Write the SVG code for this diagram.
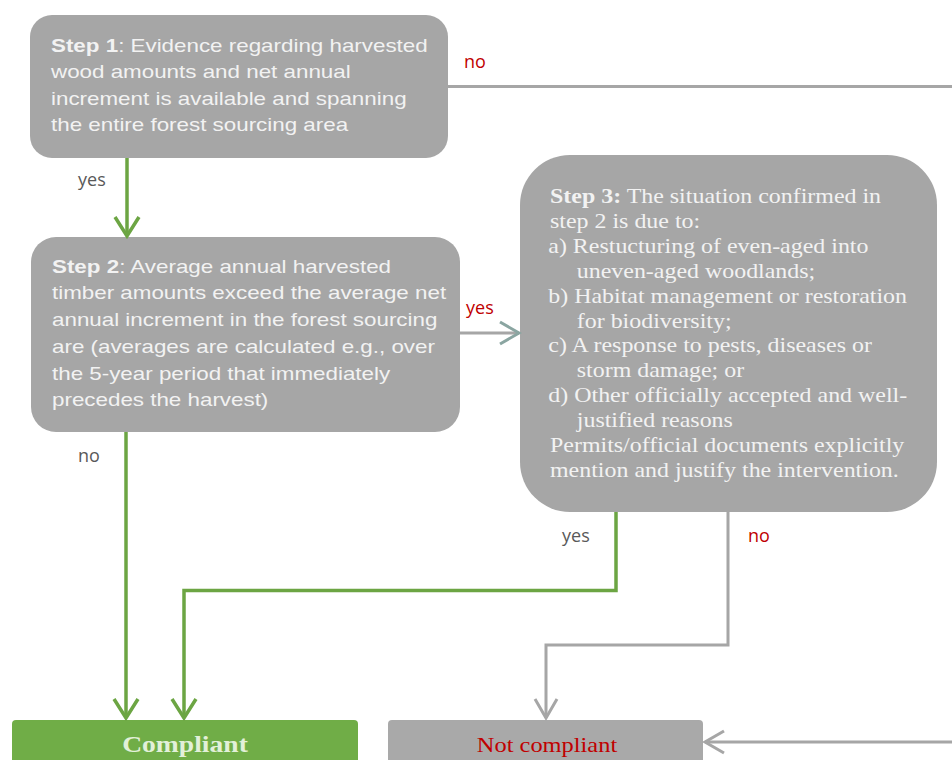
<svg xmlns="http://www.w3.org/2000/svg" width="952" height="760" viewBox="0 0 952 760">
<defs>
<style>
.box{fill:#a6a6a6}
.sans{font-family:"Liberation Sans",Arial,sans-serif;font-size:18.5px;fill:#f2f2f2}
.serif{font-family:"Liberation Serif","Times New Roman",serif;font-size:21px;fill:#f2f2f2}
.b{font-weight:bold}
.lbl{font-family:"Open Sans","Liberation Sans",sans-serif;font-size:18px}
.red{fill:#c00000}
.dk{fill:#595959}
.cg{fill:none;stroke:#6ca543;stroke-width:3.5}
.cr{fill:none;stroke:#a6a6a6;stroke-width:3}
</style>
<marker id="ag" viewBox="0 0 24 28" refX="21" refY="14" markerWidth="24" markerHeight="28" markerUnits="userSpaceOnUse" orient="auto"><path d="M2,2 L21,14 L2,26" fill="none" stroke="#6ca543" stroke-width="3.5"/></marker>
<marker id="ar" viewBox="0 0 24 28" refX="21" refY="14" markerWidth="24" markerHeight="28" markerUnits="userSpaceOnUse" orient="auto"><path d="M2,3 L21,14 L2,25" fill="none" stroke="#a6a6a6" stroke-width="3"/></marker>
<marker id="at" viewBox="0 0 24 28" refX="21" refY="14" markerWidth="24" markerHeight="28" markerUnits="userSpaceOnUse" orient="auto"><path d="M2,3 L21,14 L2,25" fill="none" stroke="#8aa5a1" stroke-width="3"/></marker>
</defs>
<rect width="952" height="760" fill="#ffffff"/>

<g id="step1">
<rect class="box" x="30" y="15" width="418" height="143" rx="22"/>
<g transform="translate(51 0) scale(1.21 1)">
<text class="sans" x="0" y="52"><tspan class="b">Step 1</tspan>: Evidence regarding harvested</text>
<text class="sans" x="0" y="78.5">wood amounts and net annual</text>
<text class="sans" x="0" y="105">increment is available and spanning</text>
<text class="sans" x="0" y="131.5">the entire forest sourcing area</text>
</g>
</g>

<g id="step2">
<rect class="box" x="31" y="237" width="429" height="195" rx="25"/>
<g transform="translate(52 0) scale(1.21 1)">
<text class="sans" x="0" y="273"><tspan class="b">Step 2</tspan>: Average annual harvested</text>
<text class="sans" x="0" y="299.5">timber amounts exceed the average net</text>
<text class="sans" x="0" y="326">annual increment in the forest sourcing</text>
<text class="sans" x="0" y="353">are (averages are calculated e.g., over</text>
<text class="sans" x="0" y="380">the 5-year period that immediately</text>
<text class="sans" x="0" y="406.5">precedes the harvest)</text>
</g>
</g>

<g id="step3">
<rect class="box" x="520" y="155" width="417" height="357" rx="50"/>
<g transform="translate(550 0) scale(1.14 1)">
<text class="serif" x="0" y="203"><tspan class="b">Step 3:</tspan> The situation confirmed in</text>
<text class="serif" x="0" y="228">step 2 is due to:</text>
<text class="serif" x="-1.5" y="253">a) Restucturing of even-aged into</text>
<text class="serif" x="23.5" y="278">uneven-aged woodlands;</text>
<text class="serif" x="-1.5" y="303">b) Habitat management or restoration</text>
<text class="serif" x="23.5" y="328">for biodiversity;</text>
<text class="serif" x="-1.5" y="352">c) A response to pests, diseases or</text>
<text class="serif" x="23.5" y="377">storm damage; or</text>
<text class="serif" x="-1.5" y="402">d) Other officially accepted and well-</text>
<text class="serif" x="23.5" y="427">justified reasons</text>
<text class="serif" x="0" y="452">Permits/official documents explicitly</text>
<text class="serif" x="0" y="477">mention and justify the intervention.</text>
</g>
</g>

<g id="compliant">
<rect x="12" y="720" width="346" height="52" rx="4" fill="#70ad47"/>
<g transform="translate(185 0) scale(1.15 1)">
<text x="0" y="752" text-anchor="middle" font-family="'Liberation Serif','Times New Roman',serif" font-size="24" font-weight="bold" fill="#e2f0d9">Compliant</text>
</g>
</g>

<g id="notcompliant">
<rect x="388" y="720" width="315" height="52" rx="4" fill="#a9a9a9"/>
<g transform="translate(547 0) scale(1.11 1)">
<text x="0" y="752" text-anchor="middle" font-family="'Liberation Serif','Times New Roman',serif" font-size="22" fill="#c00000">Not compliant</text>
</g>
</g>

<g id="connectors">
<path class="cr" d="M448,86.5 H952"/>
<path class="cg" d="M127,158 V236" marker-end="url(#ag)"/>
<path class="cr" d="M460,333 H519" marker-end="url(#at)"/>
<path class="cg" d="M126,432 V718" marker-end="url(#ag)"/>
<path class="cg" d="M616,512 V590.5 H184 V718" marker-end="url(#ag)"/>
<path class="cr" d="M728,512 V645 H546 V718" marker-end="url(#ar)"/>
<path class="cr" d="M952,742 H705" marker-end="url(#ar)"/>
<text class="lbl red" x="464" y="68">no</text>
<text class="lbl dk" x="78" y="186">yes</text>
<text class="lbl red" x="466" y="314">yes</text>
<text class="lbl dk" x="78" y="462">no</text>
<text class="lbl dk" x="562" y="542">yes</text>
<text class="lbl red" x="748" y="542">no</text>
</g>
</svg>
